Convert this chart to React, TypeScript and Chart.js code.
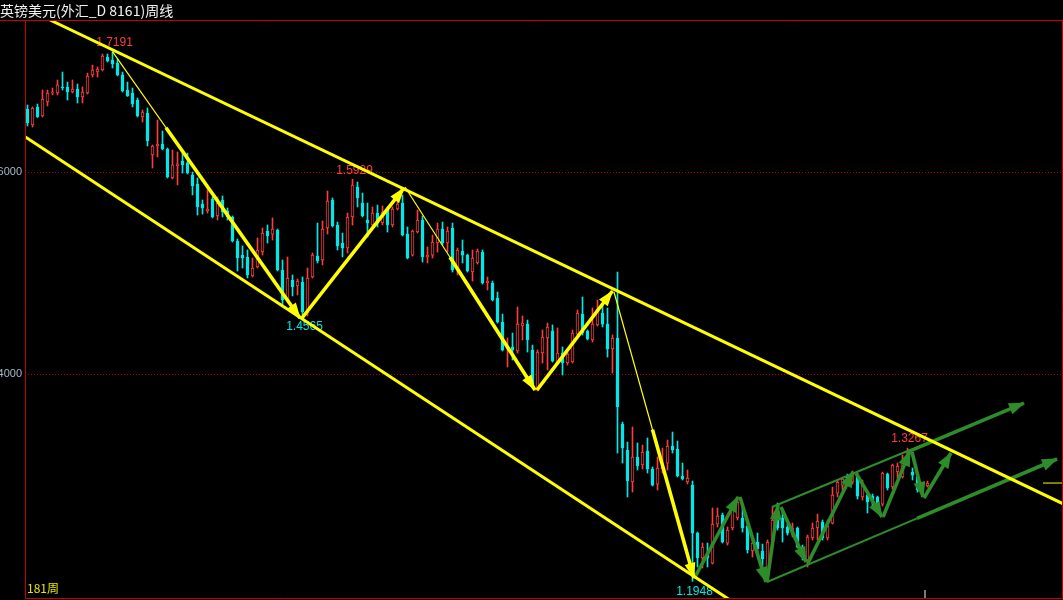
import React, { useEffect, useRef } from 'react';
import { Chart, registerables } from 'chart.js';

Chart.register(...registerables);

const titleText = '英镑美元(外汇_D 8161)周线';
const periodText = '181周';

const opens = [
  1.6624, 1.6466, 1.6644, 1.6555, 1.6693, 1.6782, 1.6782, 1.6842, 1.6842, 1.6792,
  1.6822, 1.6743, 1.6782, 1.6961, 1.6990, 1.7010, 1.7139, 1.7109, 1.7079, 1.6961,
  1.6812, 1.6782, 1.6713, 1.6545, 1.6584, 1.6169, 1.6258, 1.6277, 1.6228, 1.5941,
  1.6060, 1.6109, 1.6090, 1.5970, 1.5881, 1.5683, 1.5614, 1.5733, 1.5565, 1.5723,
  1.5614, 1.5555, 1.5317, 1.5178, 1.5159, 1.4971, 1.5060, 1.5208, 1.5416, 1.5386,
  1.5426, 1.5030, 1.4733, 1.4931, 1.4872, 1.4911, 1.4604, 1.4961, 1.5168, 1.5129,
  1.5446, 1.5723, 1.5476, 1.5297, 1.5248, 1.5555, 1.5852, 1.5693, 1.5525, 1.5476,
  1.5594, 1.5495, 1.5644, 1.5476, 1.5634, 1.5693, 1.5386, 1.5178, 1.5406, 1.5525,
  1.5159, 1.5178, 1.5297, 1.5436, 1.5297, 1.5446, 1.5030, 1.5218, 1.5178, 1.5010,
  1.5099, 1.5208, 1.4901, 1.4901, 1.4753, 1.4515, 1.4248, 1.4268, 1.4228, 1.4476,
  1.4495, 1.4238, 1.3842, 1.4208, 1.4357, 1.4426, 1.4109, 1.4208, 1.4109, 1.4119,
  1.4396, 1.4594, 1.4426, 1.4337, 1.4486, 1.4604, 1.4495, 1.4248, 1.4357, 1.3505,
  1.3248, 1.2931, 1.3179, 1.3100, 1.3238, 1.3060, 1.2911, 1.3060, 1.3119, 1.3288,
  1.3258, 1.2991, 1.2931, 1.2901, 1.2426, 1.2179, 1.2228, 1.2129, 1.2515, 1.2604,
  1.2327, 1.2476, 1.2575, 1.2575, 1.2496, 1.2248, 1.2337, 1.2248, 1.2030, 1.2357,
  1.2555, 1.2575, 1.2486, 1.2406, 1.2476, 1.2288, 1.2159, 1.2377, 1.2476, 1.2535,
  1.2377, 1.2525, 1.2822, 1.2901, 1.2991, 1.2931, 1.3000, 1.2783, 1.2802, 1.2792,
  1.2783, 1.2713, 1.3010, 1.2882, 1.3030, 1.2981, 1.3119, 1.3030, 1.2981, 1.2882,
  1.2892,
];

const highs = [
  1.6664, 1.6644, 1.6673, 1.6812, 1.6812, 1.6832, 1.6911, 1.6990, 1.6891, 1.6911,
  1.6871, 1.6842, 1.6980, 1.7059, 1.7040, 1.7168, 1.7168, 1.7191, 1.7119, 1.6990,
  1.6891, 1.6832, 1.6733, 1.6614, 1.6634, 1.6268, 1.6515, 1.6406, 1.6238, 1.6218,
  1.6198, 1.6188, 1.6188, 1.6000, 1.5941, 1.5723, 1.5822, 1.5753, 1.5753, 1.5763,
  1.5644, 1.5565, 1.5337, 1.5268, 1.5228, 1.5149, 1.5347, 1.5446, 1.5476, 1.5545,
  1.5436, 1.5129, 1.5159, 1.4981, 1.4941, 1.4961, 1.5050, 1.5198, 1.5495, 1.5515,
  1.5812, 1.5743, 1.5505, 1.5396, 1.5594, 1.5929, 1.5901, 1.5792, 1.5693, 1.5654,
  1.5673, 1.5664, 1.5654, 1.5654, 1.5703, 1.5772, 1.5456, 1.5426, 1.5624, 1.5565,
  1.5258, 1.5376, 1.5495, 1.5505, 1.5456, 1.5495, 1.5248, 1.5327, 1.5188, 1.5228,
  1.5238, 1.5228, 1.4961, 1.4921, 1.4812, 1.4594, 1.4357, 1.4406, 1.4664, 1.4575,
  1.4535, 1.4287, 1.4238, 1.4436, 1.4505, 1.4486, 1.4456, 1.4268, 1.4218, 1.4436,
  1.4634, 1.4763, 1.4436, 1.4654, 1.4733, 1.4684, 1.4654, 1.4387, 1.5010, 1.3525,
  1.3327, 1.3476, 1.3317, 1.3297, 1.3367, 1.3080, 1.3179, 1.3268, 1.3347, 1.3426,
  1.3337, 1.3119, 1.3050, 1.2941, 1.2436, 1.2327, 1.2327, 1.2674, 1.2674, 1.2624,
  1.2486, 1.2733, 1.2783, 1.2684, 1.2525, 1.2357, 1.2426, 1.2317, 1.2357, 1.2684,
  1.2723, 1.2654, 1.2515, 1.2525, 1.2486, 1.2307, 1.2406, 1.2525, 1.2614, 1.2555,
  1.2555, 1.2881, 1.2951, 1.2980, 1.3010, 1.3040, 1.3020, 1.2951, 1.2822, 1.2812,
  1.2792, 1.3030, 1.3020, 1.3109, 1.3119, 1.3198, 1.3267, 1.3070, 1.3000, 1.2911,
  1.2941,
];

const lows = [
  1.6456, 1.6446, 1.6540, 1.6545, 1.6654, 1.6763, 1.6763, 1.6812, 1.6713, 1.6782,
  1.6683, 1.6683, 1.6772, 1.6941, 1.6941, 1.7000, 1.7089, 1.7030, 1.6951, 1.6792,
  1.6748, 1.6644, 1.6545, 1.6495, 1.6258, 1.6040, 1.6149, 1.6218, 1.5941, 1.5931,
  1.5872, 1.5990, 1.5980, 1.5773, 1.5574, 1.5584, 1.5594, 1.5545, 1.5525, 1.5555,
  1.5525, 1.5307, 1.5020, 1.5050, 1.4951, 1.4961, 1.5050, 1.5178, 1.5297, 1.5327,
  1.5020, 1.4684, 1.4713, 1.4773, 1.4783, 1.4565, 1.4575, 1.4951, 1.5099, 1.5080,
  1.5386, 1.5456, 1.5228, 1.5159, 1.5198, 1.5475, 1.5654, 1.5555, 1.5357, 1.5456,
  1.5456, 1.5476, 1.5406, 1.5456, 1.5624, 1.5367, 1.5140, 1.5168, 1.5396, 1.5109,
  1.5099, 1.5149, 1.5208, 1.5277, 1.5208, 1.5010, 1.4981, 1.5099, 1.5010, 1.4921,
  1.5089, 1.4891, 1.4832, 1.4723, 1.4505, 1.4228, 1.4070, 1.4139, 1.4208, 1.4337,
  1.4218, 1.3862, 1.3832, 1.4109, 1.4040, 1.4119, 1.4099, 1.3990, 1.4089, 1.4109,
  1.4386, 1.4386, 1.4337, 1.4317, 1.4476, 1.4466, 1.4168, 1.4010, 1.3218, 1.3119,
  1.2783, 1.2832, 1.3050, 1.3060, 1.3020, 1.2892, 1.2852, 1.3020, 1.3050, 1.3218,
  1.2981, 1.2951, 1.2912, 1.1948, 1.2090, 1.2080, 1.2090, 1.2119, 1.2486, 1.2327,
  1.2307, 1.2456, 1.2555, 1.2436, 1.2228, 1.2189, 1.2228, 1.2090, 1.1981, 1.2337,
  1.2456, 1.2337, 1.2406, 1.2387, 1.2278, 1.2159, 1.2090, 1.2357, 1.2357, 1.2357,
  1.2357, 1.2515, 1.2783, 1.2852, 1.2931, 1.2911, 1.2763, 1.2753, 1.2624, 1.2684,
  1.2624, 1.2694, 1.2852, 1.2862, 1.2970, 1.2971, 1.3099, 1.2951, 1.2832, 1.2852,
  1.2881,
];

const closes = [
  1.6485, 1.6634, 1.6545, 1.6723, 1.6782, 1.6792, 1.6862, 1.6832, 1.6792, 1.6822,
  1.6743, 1.6792, 1.6951, 1.7010, 1.7020, 1.7149, 1.7099, 1.7069, 1.6961, 1.6802,
  1.6753, 1.6673, 1.6555, 1.6594, 1.6307, 1.6258, 1.6277, 1.6228, 1.5951, 1.6070,
  1.6080, 1.6070, 1.5990, 1.5862, 1.5654, 1.5644, 1.5634, 1.5555, 1.5693, 1.5604,
  1.5555, 1.5317, 1.5149, 1.5149, 1.4981, 1.5050, 1.5228, 1.5396, 1.5367, 1.5436,
  1.5030, 1.4733, 1.4951, 1.4862, 1.4921, 1.4614, 1.4951, 1.5178, 1.5119, 1.5436,
  1.5713, 1.5466, 1.5268, 1.5248, 1.5555, 1.5871, 1.5743, 1.5565, 1.5495, 1.5594,
  1.5495, 1.5604, 1.5476, 1.5634, 1.5683, 1.5377, 1.5149, 1.5416, 1.5525, 1.5159,
  1.5178, 1.5307, 1.5436, 1.5297, 1.5416, 1.5030, 1.5228, 1.5178, 1.5020, 1.5149,
  1.5218, 1.4901, 1.4921, 1.4733, 1.4515, 1.4238, 1.4268, 1.4238, 1.4495, 1.4505,
  1.4337, 1.3872, 1.4218, 1.4367, 1.4466, 1.4129, 1.4208, 1.4109, 1.4198, 1.4406,
  1.4604, 1.4406, 1.4347, 1.4495, 1.4644, 1.4495, 1.4248, 1.4357, 1.3674, 1.3268,
  1.2941, 1.3179, 1.3090, 1.3228, 1.3060, 1.2901, 1.3070, 1.3080, 1.3288, 1.3248,
  1.2991, 1.2961, 1.2971, 1.2426, 1.2179, 1.2288, 1.2179, 1.2515, 1.2594, 1.2337,
  1.2456, 1.2684, 1.2733, 1.2476, 1.2258, 1.2327, 1.2268, 1.2169, 1.2337, 1.2555,
  1.2476, 1.2476, 1.2426, 1.2476, 1.2288, 1.2189, 1.2387, 1.2476, 1.2545, 1.2377,
  1.2496, 1.2802, 1.2931, 1.2961, 1.2951, 1.3020, 1.2792, 1.2901, 1.2733, 1.2753,
  1.2703, 1.3020, 1.2872, 1.3099, 1.3089, 1.3149, 1.3228, 1.3000, 1.2852, 1.2901,
  1.2921,
];

const yTicks = [1.4, 1.6];
const yMin = 1.1783;
const yMax = 1.7505;
const xMin = -0.5;
const xMax = 206.9;

type Pt = [number, number];

const yellowChannels: Pt[][] = [
  [[4.5, 1.7505], [207.1, 1.2716]],
  [[-0.5, 1.635], [140.5, 1.1763]],
];
const yellowLegs: Pt[][] = [
  [[17, 1.7191], [54.5, 1.4555]],
  [[75.5, 1.5852], [101.5, 1.3842]],
  [[117.3, 1.4812], [133.3, 1.1981]],
];
const yellowArrows: Pt[][] = [
  [[27.7, 1.6439], [54.5, 1.4555]],
  [[54.9, 1.4555], [75.3, 1.5842]],
  [[84.5, 1.5156], [101.5, 1.3842]],
  [[101.9, 1.3842], [117.0, 1.4822]],
  [[125.0, 1.345], [133.3, 1.1981]],
];
const greenLines: Pt[][] = [
  [[148.9, 1.2684], [176.5, 1.3248]],
  [[147.9, 1.1941], [177.9, 1.2571]],
];
const greenArrows: Pt[][] = [
  [[175.9, 1.3228], [199.3, 1.3713]],
  [[177.9, 1.2571], [205.9, 1.3159]],
  [[133.5, 1.1991], [142.1, 1.2783]],
  [[142.5, 1.2783], [147.7, 1.1941]],
  [[147.9, 1.1941], [150.1, 1.2704]],
  [[150.7, 1.2684], [155.7, 1.2139]],
  [[156.1, 1.2129], [165.1, 1.303]],
  [[165.7, 1.302], [170.9, 1.2585]],
  [[171.1, 1.2585], [176.5, 1.3238]],
  [[176.9, 1.3228], [179.1, 1.2783]],
  [[179.3, 1.2773], [184.7, 1.3218]],
];

const highLabels = [
  { i: 17, v: 1.7191 },
  { i: 65, v: 1.5929 },
  { i: 176, v: 1.3267 },
];
const lowLabels = [
  { i: 55, v: 1.4565 },
  { i: 133, v: 1.1948 },
];

const priceMarkerRange: Pt = [203.1, 206.9];
const cursorTick: Pt[] = [[179.5, 1.1862], [179.5, 1.1783]];

const UP = '#ff3c3c';
const DOWN = '#00e8e8';
const YELLOW = '#ffff00';
const GREEN = '#2f8c2a';
const FRAME = '#c80000';

export default function App() {
  const canvasRef = useRef<HTMLCanvasElement | null>(null);

  useEffect(() => {
    const canvas = canvasRef.current;
    if (!canvas) return;

    const idx = opens.map((_, i) => i);
    const up = (i: number) => closes[i] >= opens[i];
    const toXY = (s: Pt[]) => s.map(([x, y]) => ({ x, y }));
    const lineSets = (segs: Pt[][], color: string, width: number) =>
      segs.map((s) => ({
        type: 'line' as const,
        data: toXY(s),
        borderColor: color,
        borderWidth: width,
        pointRadius: 0,
        fill: false,
        tension: 0,
        order: 0,
      }));

    const labelsPlugin = {
      id: 'pivotLabels',
      beforeDatasetsDraw(chart: any) {
        const { ctx, scales } = chart;
        ctx.save();
        ctx.font = '12px "Liberation Sans", Arial, sans-serif';
        ctx.textAlign = 'center';
        ctx.textBaseline = 'middle';
        ctx.fillStyle = UP;
        highLabels.forEach((l) => {
          ctx.fillText(l.v.toFixed(4), scales.x.getPixelForValue(l.i) + 2, scales.y.getPixelForValue(l.v) - 9);
        });
        ctx.fillStyle = DOWN;
        lowLabels.forEach((l) => {
          ctx.fillText(l.v.toFixed(4), scales.x.getPixelForValue(l.i) + 2, scales.y.getPixelForValue(l.v) + 10);
        });
        ctx.restore();
      },
    };

    const arrowPlugin = {
      id: 'arrowHeads',
      afterDatasetsDraw(chart: any) {
        const { ctx, scales, chartArea } = chart;
        ctx.save();
        ctx.beginPath();
        ctx.rect(chartArea.left, chartArea.top, chartArea.right - chartArea.left, chartArea.bottom - chartArea.top);
        ctx.clip();
        const draw = (segs: Pt[][], color: string, len: number, half: number) => {
          ctx.fillStyle = color;
          segs.forEach(([a, b]) => {
            const x0 = scales.x.getPixelForValue(a[0]);
            const y0 = scales.y.getPixelForValue(a[1]);
            const x1 = scales.x.getPixelForValue(b[0]);
            const y1 = scales.y.getPixelForValue(b[1]);
            const d = Math.hypot(x1 - x0, y1 - y0) || 1;
            const ux = (x1 - x0) / d;
            const uy = (y1 - y0) / d;
            const bx = x1 - ux * len;
            const by = y1 - uy * len;
            ctx.beginPath();
            ctx.moveTo(x1 + ux, y1 + uy);
            ctx.lineTo(bx - uy * half, by + ux * half);
            ctx.lineTo(bx + uy * half, by - ux * half);
            ctx.closePath();
            ctx.fill();
          });
        };
        draw(yellowArrows, YELLOW, 15, 5.5);
        draw(greenArrows, GREEN, 15, 6);
        ctx.restore();
      },
    };

    const framePlugin = {
      id: 'frame',
      afterDraw(chart: any) {
        const { ctx, chartArea, width } = chart;
        const { left, right, bottom, top } = chartArea;
        ctx.save();
        ctx.strokeStyle = FRAME;
        ctx.lineWidth = 1;
        ctx.beginPath();
        ctx.moveTo(0, top + 0.5);
        ctx.lineTo(width, top + 0.5);
        ctx.moveTo(left + 0.5, top);
        ctx.lineTo(left + 0.5, bottom + 1);
        ctx.moveTo(left, bottom + 0.5);
        ctx.lineTo(right + 1, bottom + 0.5);
        ctx.moveTo(right + 0.5, top);
        ctx.lineTo(right + 0.5, bottom + 1);
        ctx.stroke();
        ctx.restore();
      },
    };

    const lastClose = closes[closes.length - 1];

    const chart = new Chart(canvas, {
      type: 'bar',
      data: {
        datasets: [
          {
            type: 'bar',
            data: idx.map((i) => ({ x: i, y: [Math.min(opens[i], closes[i]), Math.max(opens[i], closes[i])] })),
            backgroundColor: idx.map((i) => (up(i) ? '#000000' : DOWN)),
            borderColor: idx.map((i) => (up(i) ? UP : DOWN)),
            borderWidth: 1,
            borderSkipped: false,
            barThickness: 3,
            minBarLength: 1,
            grouped: false,
            order: 2,
          } as any,
          {
            type: 'bar',
            data: idx.map((i) => ({ x: i, y: [lows[i], highs[i]] })),
            backgroundColor: idx.map((i) => (up(i) ? UP : DOWN)),
            borderWidth: 0,
            barThickness: 1,
            minBarLength: 1,
            grouped: false,
            order: 3,
          } as any,
          ...lineSets(yellowChannels, YELLOW, 3),
          ...lineSets(yellowLegs, YELLOW, 1.2),
          ...lineSets(yellowArrows, YELLOW, 3.6),
          ...lineSets(greenLines, GREEN, 2),
          ...lineSets(greenArrows, GREEN, 3.6),
          ...lineSets([[[priceMarkerRange[0], lastClose], [priceMarkerRange[1], lastClose]]], YELLOW, 1),
          ...lineSets([cursorTick], '#8c8c8c', 1),
        ] as any,
      },
      options: {
        animation: false,
        responsive: false,
        events: [],
        layout: { padding: { left: 0, right: 1, top: 20, bottom: 2 } },
        plugins: { legend: { display: false }, tooltip: { enabled: false } },
        scales: {
          x: {
            type: 'linear',
            display: false,
            min: xMin,
            max: xMax,
            offset: false,
            grid: { display: false },
          },
          y: {
            type: 'linear',
            position: 'left',
            min: yMin,
            max: yMax,
            afterBuildTicks: (s: any) => {
              s.ticks = yTicks.map((v) => ({ value: v }));
            },
            afterFit: (s: any) => {
              s.width = 25;
              s.paddingTop = 0;
              s.paddingBottom = 0;
              s.paddingLeft = 0;
              s.paddingRight = 0;
            },
            ticks: {
              color: '#a8b8c8',
              font: { family: '"Liberation Sans", Arial, sans-serif', size: 11 },
              padding: 3,
              autoSkip: false,
              callback: (v: any) => Number(v).toFixed(4),
            },
            grid: { color: '#b00000', drawTicks: false, lineWidth: 1 },
            border: { display: false, dash: [1, 2] },
          },
        },
      } as any,
      plugins: [labelsPlugin, arrowPlugin, framePlugin],
    });

    return () => chart.destroy();
  }, []);

  return (
    <div
      style={{
        position: 'fixed',
        left: 0,
        top: 0,
        width: 1063,
        height: 600,
        background: '#000',
        overflow: 'hidden',
      }}
    >
      <canvas ref={canvasRef} width={1063} height={600} style={{ display: 'block' }} />
      <div
        style={{
          position: 'absolute',
          left: 0,
          top: 1,
          height: 18,
          lineHeight: '18px',
          fontSize: 14,
          color: '#f2f2f2',
          fontFamily: '"Noto Sans CJK SC", sans-serif',
          whiteSpace: 'nowrap',
        }}
      >
        {titleText}
      </div>
      <div
        style={{
          position: 'absolute',
          left: 27,
          top: 581,
          lineHeight: '14px',
          fontSize: 12,
          color: '#e6e600',
          fontFamily: '"Noto Sans CJK SC", sans-serif',
          whiteSpace: 'nowrap',
        }}
      >
        {periodText}
      </div>
    </div>
  );
}
